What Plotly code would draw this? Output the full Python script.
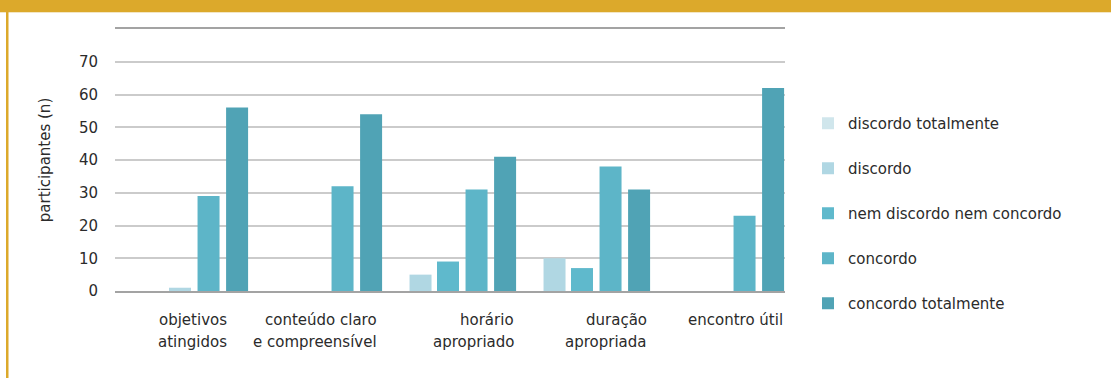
import plotly.graph_objects as go

# ---- data ----
categories = ["objetivos atingidos", "conteúdo claro e compreensível",
              "horário apropriado", "duração apropriada", "encontro útil"]
label_lines = [["objetivos", "atingidos"],
               ["conteúdo claro", "e compreensível"],
               ["horário", "apropriado"],
               ["duração", "apropriada"],
               ["encontro útil"]]
series_names = ["discordo totalmente", "discordo", "nem discordo nem concordo",
                "concordo", "concordo totalmente"]
discordo_totalmente = [0, 0, 0, 0, 0]
discordo = [1, 0, 5, 10, 0]
nem_discordo_nem_concordo = [0, 0, 9, 7, 0]
concordo = [29, 32, 31, 38, 23]
concordo_totalmente = [56, 54, 41, 31, 62]
y_ticks = [0, 10, 20, 30, 40, 50, 60, 70]
y_title = "participantes (n)"

# ---- styling ----
W, H = 1111, 378
ML, MR, MT, MB = 115, 326, 29, 87
PW, PH = W - ML - MR, H - MT - MB
FONT = "DejaVu Sans"
TXT = "#2B2B2B"
GOLD = "#DCA92B"
colors = ["#D0E6EC", "#B0D7E3", "#5FB9CC", "#5DB5C8", "#50A3B5"]
bar_w = 22 / 134
slot_off = [-0.42, -0.302, -0.097, 0.116, 0.329]


def px_x(p):
    return (p - ML) / PW


def px_y(p):
    return (MT + PH - p) / PH


values = [discordo_totalmente, discordo, nem_discordo_nem_concordo,
          concordo, concordo_totalmente]

fig = go.Figure()
for i, (name, vals) in enumerate(zip(series_names, values)):
    if i == 1:
        off = [slot_off[2]] + [slot_off[1]] * (len(vals) - 1)
    else:
        off = slot_off[i]
    fig.add_trace(go.Bar(
        x=categories, y=vals, name=name, legendgroup=name,
        marker=dict(color=colors[i], line=dict(width=0)),
        width=bar_w, offset=off, hoverinfo="x+y+name",
    ))

annotations = []
right_shift = [47, 63, 66, 65, 67]
for cat, lines, sh in zip(categories, label_lines, right_shift):
    for j, ln in enumerate(lines):
        annotations.append(dict(
            x=cat, xref="x", y=0, yref="paper", text=ln, showarrow=False,
            xanchor="right", yanchor="middle", align="right",
            xshift=sh, yshift=-(29 + 22 * j),
            font=dict(family=FONT, size=15, color=TXT)))

shapes = [
    dict(type="rect", xref="paper", yref="paper", x0=-0.5, x1=1.6,
         y0=px_y(12), y1=px_y(-5), fillcolor=GOLD, line=dict(width=0), layer="above"),
    dict(type="rect", xref="paper", yref="paper", x0=-0.5, x1=1.6,
         y0=px_y(13), y1=px_y(12), fillcolor="#F3E6C4", line=dict(width=0), layer="above"),
    dict(type="rect", xref="paper", yref="paper", x0=px_x(6), x1=px_x(8.5),
         y0=px_y(H + 5), y1=px_y(12), fillcolor=GOLD, line=dict(width=0), layer="above"),
]

fig.update_layout(
    width=W, height=H,
    margin=dict(l=ML, r=MR, t=MT, b=MB, autoexpand=False),
    paper_bgcolor="white", plot_bgcolor="white",
    barmode="overlay",
    font=dict(family=FONT, size=15, color=TXT),
    showlegend=True,
    legend=dict(x=px_x(808), xanchor="left", y=px_y(107), yanchor="top",
                traceorder="grouped", tracegroupgap=22.5,
                font=dict(family=FONT, size=15, color=TXT),
                bgcolor="rgba(0,0,0,0)"),
    xaxis=dict(range=[-0.5, 4.5], showticklabels=False, showgrid=False,
               zeroline=False, showline=True, linecolor="#A3A3A3",
               linewidth=1.5, mirror=True, ticks=""),
    yaxis=dict(range=[0, 80], tickvals=y_ticks, showgrid=True,
               gridcolor="#CBCBCB", gridwidth=1.5, zeroline=False,
               showline=False, ticks="", ticklabelstandoff=16,
               tickfont=dict(family=FONT, size=15, color=TXT),
               title=dict(text=y_title, standoff=24,
                          font=dict(family=FONT, size=15, color=TXT))),
    annotations=annotations,
    shapes=shapes,
)

fig.write_html("out.html")
